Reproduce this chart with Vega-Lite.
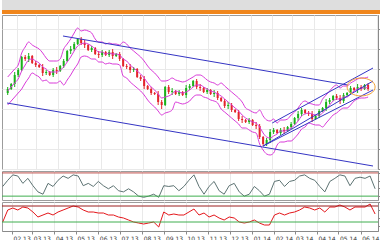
{
  "$schema": "https://vega.github.io/schema/vega-lite/v6.json",
  "padding": 0,
  "spacing": 0,
  "background": "white",
  "config": {
    "view": {"stroke": "#9c9c9c"},
    "axis": {"labelFont": "DejaVu Sans", "labelFontSize": 6, "labelColor": "#333333", "tickColor": "#8a8a8a", "domainColor": "#8a8a8a", "gridColor": "#e9e9e9", "title": null}
  },
  "resolve": {"scale": {"x": "independent", "y": "independent"}},
  "datasets": {
    "candles": [
      {"d":"2013-01-19","o":1.076,"h":1.082,"l":1.074,"c":1.080,"u":1.092,"m":1.078,"b":1.064},
      {"d":"2013-01-24","o":1.080,"h":1.086,"l":1.079,"c":1.085,"u":1.096,"m":1.082,"b":1.068},
      {"d":"2013-01-29","o":1.085,"h":1.097,"l":1.082,"c":1.094,"u":1.100,"m":1.086,"b":1.072},
      {"d":"2013-02-03","o":1.094,"h":1.101,"l":1.092,"c":1.099,"u":1.104,"m":1.090,"b":1.076},
      {"d":"2013-02-08","o":1.099,"h":1.113,"l":1.098,"c":1.112,"u":1.116,"m":1.098,"b":1.080},
      {"d":"2013-02-13","o":1.112,"h":1.114,"l":1.108,"c":1.110,"u":1.122,"m":1.104,"b":1.086},
      {"d":"2013-02-18","o":1.110,"h":1.116,"l":1.107,"c":1.113,"u":1.127,"m":1.109,"b":1.091},
      {"d":"2013-02-23","o":1.113,"h":1.114,"l":1.105,"c":1.106,"u":1.124,"m":1.110,"b":1.096},
      {"d":"2013-02-28","o":1.106,"h":1.108,"l":1.102,"c":1.104,"u":1.122,"m":1.108,"b":1.094},
      {"d":"2013-03-05","o":1.104,"h":1.105,"l":1.101,"c":1.102,"u":1.120,"m":1.106,"b":1.092},
      {"d":"2013-03-10","o":1.102,"h":1.105,"l":1.093,"c":1.096,"u":1.116,"m":1.102,"b":1.088},
      {"d":"2013-03-15","o":1.096,"h":1.099,"l":1.094,"c":1.097,"u":1.111,"m":1.100,"b":1.089},
      {"d":"2013-03-20","o":1.097,"h":1.098,"l":1.093,"c":1.094,"u":1.108,"m":1.097,"b":1.086},
      {"d":"2013-03-25","o":1.094,"h":1.101,"l":1.092,"c":1.099,"u":1.108,"m":1.097,"b":1.086},
      {"d":"2013-03-30","o":1.099,"h":1.102,"l":1.095,"c":1.098,"u":1.108,"m":1.097,"b":1.086},
      {"d":"2013-04-04","o":1.098,"h":1.104,"l":1.097,"c":1.103,"u":1.110,"m":1.099,"b":1.088},
      {"d":"2013-04-09","o":1.103,"h":1.110,"l":1.101,"c":1.108,"u":1.120,"m":1.102,"b":1.084},
      {"d":"2013-04-14","o":1.108,"h":1.119,"l":1.107,"c":1.118,"u":1.125,"m":1.107,"b":1.089},
      {"d":"2013-04-19","o":1.118,"h":1.123,"l":1.115,"c":1.120,"u":1.130,"m":1.112,"b":1.094},
      {"d":"2013-04-24","o":1.120,"h":1.127,"l":1.118,"c":1.125,"u":1.136,"m":1.118,"b":1.100},
      {"d":"2013-04-29","o":1.125,"h":1.131,"l":1.124,"c":1.130,"u":1.141,"m":1.123,"b":1.105},
      {"d":"2013-05-04","o":1.130,"h":1.132,"l":1.124,"c":1.126,"u":1.138,"m":1.125,"b":1.112},
      {"d":"2013-05-09","o":1.126,"h":1.129,"l":1.121,"c":1.124,"u":1.139,"m":1.126,"b":1.113},
      {"d":"2013-05-14","o":1.124,"h":1.125,"l":1.118,"c":1.119,"u":1.138,"m":1.125,"b":1.112},
      {"d":"2013-05-19","o":1.119,"h":1.123,"l":1.117,"c":1.121,"u":1.136,"m":1.123,"b":1.110},
      {"d":"2013-05-24","o":1.121,"h":1.122,"l":1.114,"c":1.115,"u":1.130,"m":1.120,"b":1.110},
      {"d":"2013-05-29","o":1.115,"h":1.118,"l":1.111,"c":1.114,"u":1.127,"m":1.117,"b":1.107},
      {"d":"2013-06-03","o":1.114,"h":1.119,"l":1.112,"c":1.117,"u":1.127,"m":1.117,"b":1.107},
      {"d":"2013-06-08","o":1.117,"h":1.118,"l":1.113,"c":1.114,"u":1.125,"m":1.115,"b":1.105},
      {"d":"2013-06-13","o":1.114,"h":1.119,"l":1.112,"c":1.117,"u":1.126,"m":1.116,"b":1.106},
      {"d":"2013-06-18","o":1.117,"h":1.120,"l":1.110,"c":1.113,"u":1.125,"m":1.115,"b":1.105},
      {"d":"2013-06-23","o":1.113,"h":1.116,"l":1.112,"c":1.115,"u":1.125,"m":1.115,"b":1.105},
      {"d":"2013-06-28","o":1.115,"h":1.117,"l":1.108,"c":1.110,"u":1.124,"m":1.114,"b":1.104},
      {"d":"2013-07-03","o":1.110,"h":1.111,"l":1.102,"c":1.103,"u":1.127,"m":1.110,"b":1.093},
      {"d":"2013-07-08","o":1.103,"h":1.105,"l":1.100,"c":1.102,"u":1.125,"m":1.108,"b":1.091},
      {"d":"2013-07-13","o":1.102,"h":1.105,"l":1.096,"c":1.099,"u":1.121,"m":1.104,"b":1.087},
      {"d":"2013-07-18","o":1.099,"h":1.102,"l":1.097,"c":1.100,"u":1.118,"m":1.101,"b":1.084},
      {"d":"2013-07-23","o":1.100,"h":1.101,"l":1.091,"c":1.092,"u":1.115,"m":1.098,"b":1.081},
      {"d":"2013-07-28","o":1.092,"h":1.094,"l":1.088,"c":1.090,"u":1.112,"m":1.095,"b":1.078},
      {"d":"2013-08-02","o":1.090,"h":1.093,"l":1.080,"c":1.083,"u":1.108,"m":1.091,"b":1.074},
      {"d":"2013-08-07","o":1.083,"h":1.084,"l":1.079,"c":1.080,"u":1.103,"m":1.086,"b":1.069},
      {"d":"2013-08-12","o":1.080,"h":1.082,"l":1.074,"c":1.076,"u":1.099,"m":1.082,"b":1.065},
      {"d":"2013-08-17","o":1.076,"h":1.077,"l":1.074,"c":1.075,"u":1.096,"m":1.079,"b":1.062},
      {"d":"2013-08-22","o":1.075,"h":1.078,"l":1.064,"c":1.067,"u":1.092,"m":1.075,"b":1.058},
      {"d":"2013-08-27","o":1.067,"h":1.069,"l":1.060,"c":1.064,"u":1.088,"m":1.071,"b":1.054},
      {"d":"2013-09-01","o":1.064,"h":1.083,"l":1.063,"c":1.082,"u":1.088,"m":1.072,"b":1.056},
      {"d":"2013-09-06","o":1.082,"h":1.084,"l":1.075,"c":1.077,"u":1.089,"m":1.073,"b":1.057},
      {"d":"2013-09-11","o":1.077,"h":1.081,"l":1.074,"c":1.078,"u":1.091,"m":1.075,"b":1.059},
      {"d":"2013-09-16","o":1.078,"h":1.079,"l":1.074,"c":1.075,"u":1.089,"m":1.078,"b":1.067},
      {"d":"2013-09-21","o":1.075,"h":1.079,"l":1.073,"c":1.077,"u":1.088,"m":1.077,"b":1.066},
      {"d":"2013-09-26","o":1.077,"h":1.078,"l":1.073,"c":1.074,"u":1.087,"m":1.076,"b":1.065},
      {"d":"2013-10-01","o":1.074,"h":1.084,"l":1.071,"c":1.081,"u":1.088,"m":1.077,"b":1.066},
      {"d":"2013-10-06","o":1.081,"h":1.085,"l":1.079,"c":1.083,"u":1.090,"m":1.079,"b":1.068},
      {"d":"2013-10-11","o":1.083,"h":1.089,"l":1.082,"c":1.088,"u":1.092,"m":1.082,"b":1.072},
      {"d":"2013-10-16","o":1.088,"h":1.090,"l":1.080,"c":1.082,"u":1.094,"m":1.084,"b":1.074},
      {"d":"2013-10-21","o":1.082,"h":1.085,"l":1.078,"c":1.081,"u":1.094,"m":1.084,"b":1.074},
      {"d":"2013-10-26","o":1.081,"h":1.082,"l":1.076,"c":1.077,"u":1.092,"m":1.082,"b":1.072},
      {"d":"2013-10-31","o":1.077,"h":1.081,"l":1.075,"c":1.079,"u":1.089,"m":1.080,"b":1.071},
      {"d":"2013-11-05","o":1.079,"h":1.080,"l":1.074,"c":1.075,"u":1.087,"m":1.078,"b":1.069},
      {"d":"2013-11-10","o":1.075,"h":1.079,"l":1.072,"c":1.076,"u":1.086,"m":1.077,"b":1.068},
      {"d":"2013-11-15","o":1.076,"h":1.078,"l":1.069,"c":1.071,"u":1.084,"m":1.075,"b":1.066},
      {"d":"2013-11-20","o":1.071,"h":1.072,"l":1.067,"c":1.068,"u":1.086,"m":1.073,"b":1.060},
      {"d":"2013-11-25","o":1.068,"h":1.070,"l":1.061,"c":1.063,"u":1.083,"m":1.070,"b":1.057},
      {"d":"2013-11-30","o":1.063,"h":1.067,"l":1.060,"c":1.064,"u":1.080,"m":1.067,"b":1.054},
      {"d":"2013-12-05","o":1.064,"h":1.066,"l":1.057,"c":1.059,"u":1.077,"m":1.064,"b":1.051},
      {"d":"2013-12-10","o":1.059,"h":1.060,"l":1.056,"c":1.057,"u":1.074,"m":1.061,"b":1.048},
      {"d":"2013-12-15","o":1.057,"h":1.059,"l":1.048,"c":1.050,"u":1.071,"m":1.058,"b":1.045},
      {"d":"2013-12-20","o":1.050,"h":1.053,"l":1.046,"c":1.049,"u":1.067,"m":1.054,"b":1.041},
      {"d":"2013-12-25","o":1.049,"h":1.050,"l":1.046,"c":1.047,"u":1.061,"m":1.051,"b":1.041},
      {"d":"2013-12-30","o":1.047,"h":1.051,"l":1.045,"c":1.049,"u":1.059,"m":1.049,"b":1.039},
      {"d":"2014-01-04","o":1.049,"h":1.050,"l":1.043,"c":1.044,"u":1.057,"m":1.047,"b":1.037},
      {"d":"2014-01-09","o":1.044,"h":1.047,"l":1.040,"c":1.043,"u":1.056,"m":1.046,"b":1.036},
      {"d":"2014-01-14","o":1.043,"h":1.045,"l":1.030,"c":1.032,"u":1.059,"m":1.042,"b":1.025},
      {"d":"2014-01-19","o":1.032,"h":1.033,"l":1.023,"c":1.025,"u":1.053,"m":1.036,"b":1.019},
      {"d":"2014-01-24","o":1.025,"h":1.031,"l":1.023,"c":1.029,"u":1.049,"m":1.032,"b":1.015},
      {"d":"2014-01-29","o":1.029,"h":1.040,"l":1.026,"c":1.037,"u":1.048,"m":1.031,"b":1.014},
      {"d":"2014-02-03","o":1.037,"h":1.041,"l":1.035,"c":1.039,"u":1.050,"m":1.033,"b":1.016},
      {"d":"2014-02-08","o":1.039,"h":1.040,"l":1.035,"c":1.036,"u":1.046,"m":1.035,"b":1.024},
      {"d":"2014-02-13","o":1.036,"h":1.041,"l":1.034,"c":1.039,"u":1.049,"m":1.038,"b":1.027},
      {"d":"2014-02-18","o":1.039,"h":1.042,"l":1.035,"c":1.038,"u":1.049,"m":1.038,"b":1.027},
      {"d":"2014-02-23","o":1.038,"h":1.043,"l":1.037,"c":1.042,"u":1.050,"m":1.039,"b":1.028},
      {"d":"2014-02-28","o":1.042,"h":1.047,"l":1.040,"c":1.045,"u":1.054,"m":1.041,"b":1.028},
      {"d":"2014-03-05","o":1.045,"h":1.052,"l":1.044,"c":1.051,"u":1.057,"m":1.044,"b":1.031},
      {"d":"2014-03-10","o":1.051,"h":1.058,"l":1.048,"c":1.055,"u":1.061,"m":1.048,"b":1.035},
      {"d":"2014-03-15","o":1.055,"h":1.061,"l":1.053,"c":1.059,"u":1.066,"m":1.053,"b":1.040},
      {"d":"2014-03-20","o":1.059,"h":1.060,"l":1.055,"c":1.056,"u":1.068,"m":1.055,"b":1.042},
      {"d":"2014-03-25","o":1.056,"h":1.058,"l":1.053,"c":1.055,"u":1.066,"m":1.056,"b":1.046},
      {"d":"2014-03-30","o":1.055,"h":1.058,"l":1.047,"c":1.050,"u":1.065,"m":1.055,"b":1.045},
      {"d":"2014-04-04","o":1.050,"h":1.054,"l":1.049,"c":1.053,"u":1.064,"m":1.054,"b":1.044},
      {"d":"2014-04-09","o":1.053,"h":1.060,"l":1.051,"c":1.058,"u":1.064,"m":1.054,"b":1.044},
      {"d":"2014-04-14","o":1.058,"h":1.062,"l":1.057,"c":1.061,"u":1.070,"m":1.056,"b":1.042},
      {"d":"2014-04-19","o":1.061,"h":1.070,"l":1.058,"c":1.067,"u":1.074,"m":1.060,"b":1.046},
      {"d":"2014-04-24","o":1.067,"h":1.071,"l":1.065,"c":1.069,"u":1.078,"m":1.064,"b":1.050},
      {"d":"2014-04-29","o":1.069,"h":1.074,"l":1.068,"c":1.073,"u":1.082,"m":1.068,"b":1.054},
      {"d":"2014-05-04","o":1.073,"h":1.075,"l":1.069,"c":1.071,"u":1.084,"m":1.070,"b":1.056},
      {"d":"2014-05-09","o":1.071,"h":1.074,"l":1.065,"c":1.068,"u":1.081,"m":1.070,"b":1.059},
      {"d":"2014-05-14","o":1.068,"h":1.076,"l":1.066,"c":1.074,"u":1.083,"m":1.072,"b":1.061},
      {"d":"2014-05-19","o":1.074,"h":1.077,"l":1.073,"c":1.076,"u":1.083,"m":1.072,"b":1.061},
      {"d":"2014-05-24","o":1.076,"h":1.083,"l":1.074,"c":1.081,"u":1.086,"m":1.075,"b":1.064},
      {"d":"2014-05-29","o":1.081,"h":1.082,"l":1.078,"c":1.079,"u":1.088,"m":1.078,"b":1.068},
      {"d":"2014-06-03","o":1.079,"h":1.085,"l":1.076,"c":1.082,"u":1.090,"m":1.080,"b":1.070},
      {"d":"2014-06-08","o":1.082,"h":1.084,"l":1.078,"c":1.080,"u":1.091,"m":1.081,"b":1.071},
      {"d":"2014-06-13","o":1.080,"h":1.085,"l":1.079,"c":1.084,"u":1.091,"m":1.081,"b":1.071},
      {"d":"2014-06-18","o":1.084,"h":1.086,"l":1.078,"c":1.080,"u":1.092,"m":1.082,"b":1.072}
    ],
    "osc": [
      {"d":"2013-01-19","s":45,"r":30},{"d":"2013-01-26","s":61,"r":60},{"d":"2013-02-02","s":75,"r":65},
      {"d":"2013-02-09","s":72,"r":60},{"d":"2013-02-16","s":53,"r":67.5},{"d":"2013-02-23","s":66,"r":65},
      {"d":"2013-03-02","s":47,"r":55},{"d":"2013-03-09","s":31,"r":42.5},{"d":"2013-03-16","s":25,"r":47.5},
      {"d":"2013-03-23","s":53,"r":52.5},{"d":"2013-03-30","s":45,"r":47.5},{"d":"2013-04-06","s":61,"r":55},
      {"d":"2013-04-13","s":72,"r":60},{"d":"2013-04-20","s":66,"r":65},{"d":"2013-04-27","s":75,"r":70},
      {"d":"2013-05-04","s":72,"r":67.5},{"d":"2013-05-11","s":47,"r":60},{"d":"2013-05-18","s":53,"r":55},
      {"d":"2013-05-25","s":45,"r":55},{"d":"2013-06-01","s":58,"r":52.5},{"d":"2013-06-08","s":47,"r":52.5},
      {"d":"2013-06-15","s":39,"r":47.5},{"d":"2013-06-22","s":47,"r":47.5},{"d":"2013-06-29","s":34,"r":42.5},
      {"d":"2013-07-06","s":31,"r":40},{"d":"2013-07-13","s":39,"r":35},{"d":"2013-07-20","s":31,"r":30},
      {"d":"2013-07-27","s":20,"r":27.5},{"d":"2013-08-03","s":17,"r":25},{"d":"2013-08-10","s":20,"r":27.5},
      {"d":"2013-08-17","s":25,"r":30},{"d":"2013-08-24","s":17,"r":17.5},{"d":"2013-08-31","s":47,"r":55},
      {"d":"2013-09-07","s":45,"r":47.5},{"d":"2013-09-14","s":47,"r":50},{"d":"2013-09-21","s":34,"r":47.5},
      {"d":"2013-09-28","s":45,"r":47.5},{"d":"2013-10-05","s":61,"r":55},{"d":"2013-10-12","s":75,"r":62.5},
      {"d":"2013-10-19","s":45,"r":47.5},{"d":"2013-10-26","s":25,"r":52.5},{"d":"2013-11-02","s":45,"r":42.5},
      {"d":"2013-11-09","s":58,"r":47.5},{"d":"2013-11-16","s":34,"r":40},{"d":"2013-11-23","s":25,"r":35},
      {"d":"2013-11-30","s":47,"r":42.5},{"d":"2013-12-07","s":53,"r":40},{"d":"2013-12-14","s":31,"r":30},
      {"d":"2013-12-21","s":20,"r":27.5},{"d":"2013-12-28","s":25,"r":30},{"d":"2014-01-04","s":45,"r":35},
      {"d":"2014-01-11","s":34,"r":27.5},{"d":"2014-01-18","s":20,"r":22.5},{"d":"2014-01-25","s":25,"r":22.5},
      {"d":"2014-02-01","s":58,"r":47.5},{"d":"2014-02-08","s":61,"r":52.5},{"d":"2014-02-15","s":45,"r":47.5},
      {"d":"2014-02-22","s":58,"r":52.5},{"d":"2014-03-01","s":61,"r":55},{"d":"2014-03-08","s":72,"r":60},
      {"d":"2014-03-15","s":75,"r":67.5},{"d":"2014-03-22","s":66,"r":65},{"d":"2014-03-29","s":61,"r":60},
      {"d":"2014-04-05","s":45,"r":65},{"d":"2014-04-12","s":31,"r":55},{"d":"2014-04-19","s":58,"r":67.5},
      {"d":"2014-04-26","s":66,"r":67.5},{"d":"2014-05-03","s":75,"r":72.5},{"d":"2014-05-10","s":72,"r":67.5},
      {"d":"2014-05-17","s":47,"r":60},{"d":"2014-05-24","s":66,"r":67.5},{"d":"2014-05-31","s":69,"r":67.5},
      {"d":"2014-06-07","s":66,"r":67.5},{"d":"2014-06-14","s":72,"r":75},{"d":"2014-06-21","s":39,"r":50}
    ],
    "chan": [
      {"g":"L1","d":"2013-04-08","p":1.133},{"g":"L1","d":"2014-05-20","p":1.084},
      {"g":"L2","d":"2013-01-18","p":1.066},{"g":"L2","d":"2014-06-25","p":1.003},
      {"g":"L3","d":"2014-02-01","p":1.046},{"g":"L3","d":"2014-06-25","p":1.101},
      {"g":"L4","d":"2014-01-19","p":1.023},{"g":"L4","d":"2014-06-25","p":1.079},
      {"g":"L5","d":"2014-01-19","p":1.023},{"g":"L5","d":"2014-06-25","p":1.088}
    ]
  },
  "vconcat": [
    {
      "width": 380, "height": 10, "view": {"stroke": null, "fill": "#dedede"},
      "data": {"values": [{"part": "toolbar"}]},
      "mark": {"type": "rect", "color": "#dedede"},
      "encoding": {}
    },
    {
      "width": 380, "height": 4, "view": {"stroke": null, "fill": "#f0861c"},
      "data": {"values": [{"part": "tab strip"}]},
      "mark": {"type": "rect", "color": "#f0861c"},
      "encoding": {}
    },
    {
      "width": 376, "height": 154,
      "layer": [
        {
          "data": {"name": "candles"},
          "mark": {"type": "rule", "strokeWidth": 1},
          "encoding": {
            "x": {"field": "d", "type": "temporal", "scale": {"domain": [{"year": 2013, "month": 1, "date": 18}, {"year": 2014, "month": 6, "date": 25}]}, "axis": {"labels": false, "ticks": false, "domain": false, "grid": true, "tickCount": {"interval": "month", "step": 1}}},
            "y": {"field": "l", "type": "quantitative", "scale": {"domain": [1.0, 1.154], "nice": false, "zero": false}, "axis": {"orient": "right", "labels": false, "tickSize": 3, "grid": true, "tickCount": 5}},
            "y2": {"field": "h"},
            "color": {"condition": {"test": "datum.c > datum.o", "value": "#1ab21a"}, "value": "#e3242b"}
          }
        },
        {
          "data": {"name": "candles"},
          "mark": {"type": "bar", "size": 2},
          "encoding": {
            "x": {"field": "d", "type": "temporal"},
            "y": {"field": "o", "type": "quantitative"},
            "y2": {"field": "c"},
            "color": {"condition": {"test": "datum.c > datum.o", "value": "#1ab21a"}, "value": "#e3242b"}
          }
        },
        {
          "data": {"name": "candles"},
          "mark": {"type": "line", "color": "#d93bd9", "strokeWidth": 1, "interpolate": "monotone"},
          "encoding": {"x": {"field": "d", "type": "temporal"}, "y": {"field": "u", "type": "quantitative"}}
        },
        {
          "data": {"name": "candles"},
          "mark": {"type": "line", "color": "#d93bd9", "strokeWidth": 1, "interpolate": "monotone"},
          "encoding": {"x": {"field": "d", "type": "temporal"}, "y": {"field": "m", "type": "quantitative"}}
        },
        {
          "data": {"name": "candles"},
          "mark": {"type": "line", "color": "#d93bd9", "strokeWidth": 1, "interpolate": "monotone"},
          "encoding": {"x": {"field": "d", "type": "temporal"}, "y": {"field": "b", "type": "quantitative"}}
        },
        {
          "data": {"name": "chan"},
          "mark": {"type": "line", "color": "#3535c4", "strokeWidth": 1, "clip": true},
          "encoding": {"x": {"field": "d", "type": "temporal"}, "y": {"field": "p", "type": "quantitative"}, "detail": {"field": "g"}}
        },
        {
          "data": {"values": [{"d": "2014-06-08", "p": 1.082}]},
          "mark": {"type": "point", "shape": "M-1,0 A1,0.64 0 1,0 1,0 A1,0.64 0 1,0 -1,0 Z", "size": 784, "filled": false, "stroke": "#f2a33a", "strokeWidth": 1, "opacity": 1},
          "encoding": {"x": {"field": "d", "type": "temporal"}, "y": {"field": "p", "type": "quantitative"}}
        }
      ]
    },
    {
      "width": 376, "height": 29,
      "layer": [
        {
          "data": {"name": "osc"},
          "mark": {"type": "line", "color": "#5d7373", "strokeWidth": 1},
          "encoding": {
            "x": {"field": "d", "type": "temporal", "scale": {"domain": [{"year": 2013, "month": 1, "date": 18}, {"year": 2014, "month": 6, "date": 25}]}, "axis": {"labels": false, "ticks": false, "domain": false, "grid": true, "tickCount": {"interval": "month", "step": 1}}},
            "y": {"field": "s", "type": "quantitative", "scale": {"domain": [10, 85], "nice": false, "zero": false}, "axis": {"orient": "right", "labels": false, "tickSize": 3, "grid": false, "tickCount": 3}}
          }
        },
        {
          "data": {"values": [{"level": "upper"}]},
          "mark": {"type": "rule", "color": "#c0504d", "strokeWidth": 1},
          "encoding": {"y": {"datum": 80, "type": "quantitative"}}
        },
        {
          "data": {"values": [{"level": "lower"}]},
          "mark": {"type": "rule", "color": "#3fae4f", "strokeWidth": 1},
          "encoding": {"y": {"datum": 20, "type": "quantitative"}}
        }
      ]
    },
    {
      "width": 376, "height": 29,
      "layer": [
        {
          "data": {"name": "osc"},
          "mark": {"type": "line", "color": "#e4161b", "strokeWidth": 1},
          "encoding": {
            "x": {"field": "d", "type": "temporal", "scale": {"domain": [{"year": 2013, "month": 1, "date": 18}, {"year": 2014, "month": 6, "date": 25}]}, "axis": {"format": "%m.%y", "labelAlign": "left", "labelOffset": 1, "tickSize": 3, "labelPadding": 1, "grid": true, "labelFlush": false, "labelOverlap": false, "tickCount": {"interval": "month", "step": 1}}},
            "y": {"field": "r", "type": "quantitative", "scale": {"domain": [7.5, 80], "nice": false, "zero": false}, "axis": {"orient": "right", "labels": false, "tickSize": 3, "grid": false, "tickCount": 3}}
          }
        },
        {
          "data": {"values": [{"level": "upper"}]},
          "mark": {"type": "rule", "color": "#9b1c1c", "strokeWidth": 1},
          "encoding": {"y": {"datum": 70, "type": "quantitative"}}
        },
        {
          "data": {"values": [{"level": "lower"}]},
          "mark": {"type": "rule", "color": "#3fae4f", "strokeWidth": 1},
          "encoding": {"y": {"datum": 30, "type": "quantitative"}}
        }
      ]
    },
    {
      "width": 380, "height": 4, "view": {"stroke": null, "fill": "#d6d6d6"},
      "data": {"values": [{"part": "status bar"}]},
      "mark": {"type": "rect", "color": "#d6d6d6"},
      "encoding": {}
    }
  ]
}
